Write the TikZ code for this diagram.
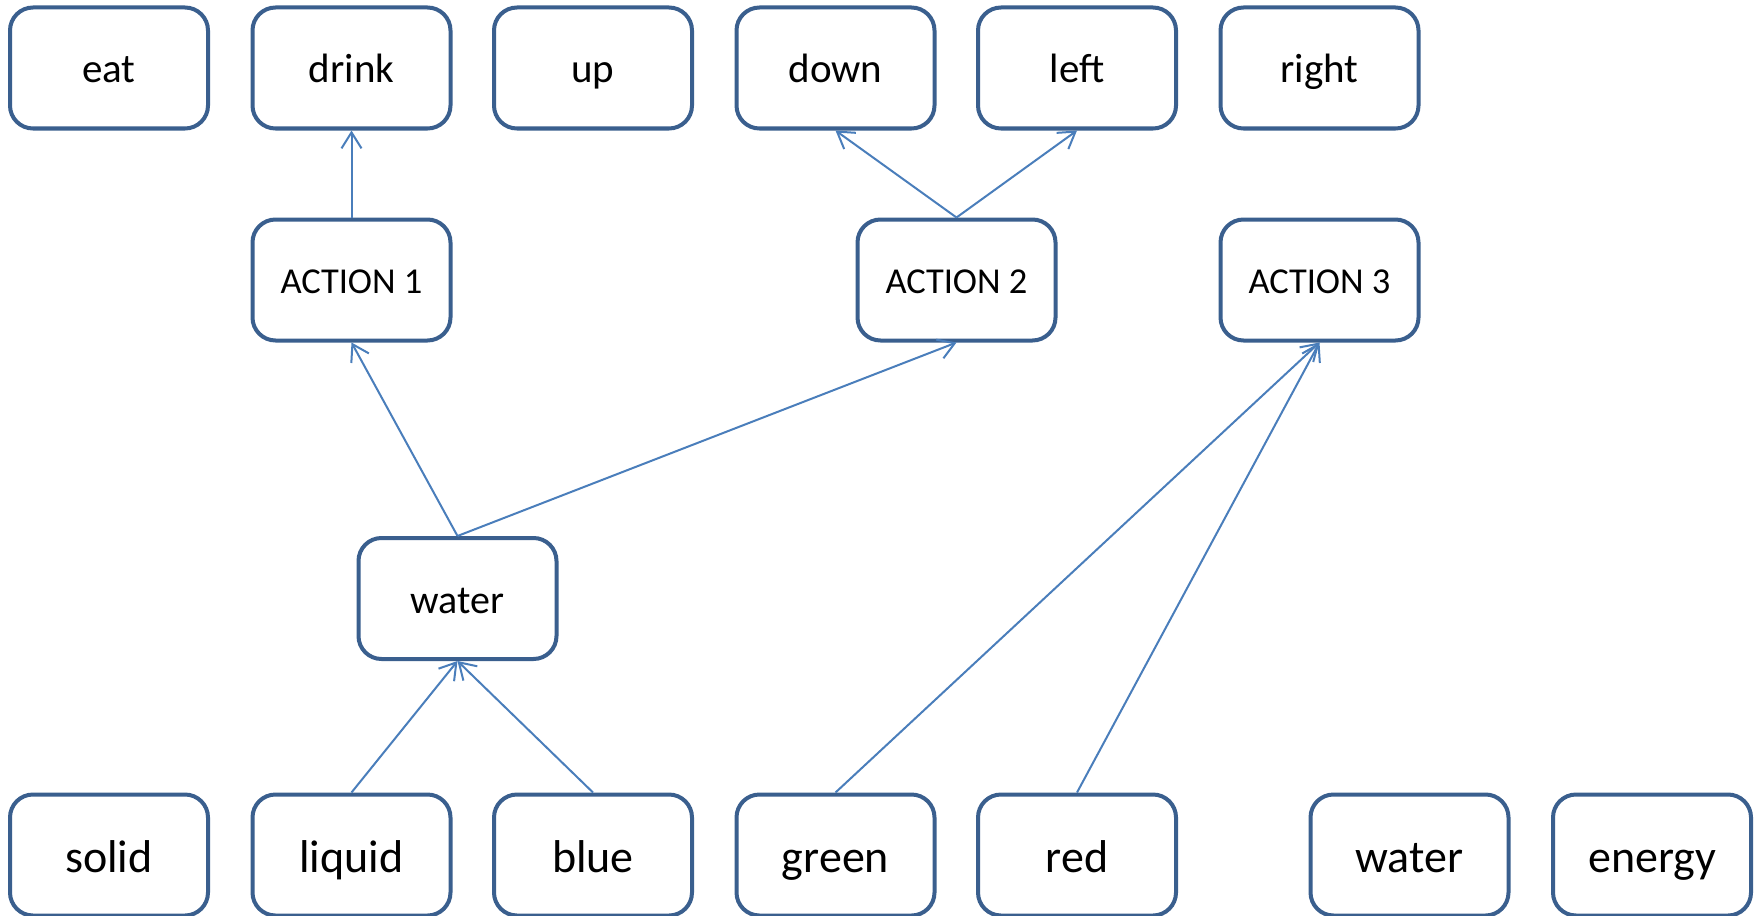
\documentclass[tikz,border=0pt]{standalone}
\usepackage{fontspec}
\setmainfont{Carlito}
\usetikzlibrary{arrows.meta}
\definecolor{boxblue}{HTML}{3A5F8E}
\definecolor{linkblue}{HTML}{4A7EBB}
\tikzset{
  box/.style={draw=boxblue, line width=4pt, rounded corners=23pt, fill=white,
    minimum width=198pt, minimum height=121pt, inner sep=0pt, text=black},
  toprow/.style={box, font=\fontsize{41}{48}\selectfont, text height=30pt, text depth=0pt},
  actbox/.style={box, font=\fontsize{36.5}{44}\selectfont, text height=26pt, text depth=0pt},
  midbox/.style={box, font=\fontsize{40}{48}\selectfont, text height=29pt, text depth=0pt},
  botrow/.style={box, font=\fontsize{46}{54}\selectfont, text height=35pt, text depth=0pt},
  link/.style={draw=linkblue, line width=2pt, -{Straight Barb[length=16pt,width=20pt]}}
}
\begin{document}
\begin{tikzpicture}[x=1pt,y=-1pt]
\useasboundingbox (0,0) rectangle (1760,915);
% top row
\node[toprow] (eat)   at (109,68)    {eat};
\node[toprow] (drink) at (351.5,68)  {drink};
\node[toprow] (up)    at (593,68)    {up};
\node[toprow] (down)  at (835.5,68)  {down};
\node[toprow] (left)  at (1077,68)   {left};
\node[toprow] (right) at (1319.5,68) {right};
% actions
\node[actbox] (a1) at (351.5,280)  {ACTION 1};
\node[actbox] (a2) at (956.5,280)  {ACTION 2};
\node[actbox] (a3) at (1319.5,280) {ACTION 3};
% middle
\node[midbox] (watermid) at (457.5,598.5) {water};
% bottom row
\node[botrow] (solid)  at (109,855)    {solid};
\node[botrow] (liquid) at (351.5,855)  {liquid};
\node[botrow] (blue)   at (593,855)    {blue};
\node[botrow] (green)  at (835.5,855)  {green};
\node[botrow] (red)    at (1077,855)   {red};
\node[botrow] (waterb) at (1409.5,855) {water};
\node[botrow] (energy) at (1652,855)   {energy};
% connectors
\draw[link] (a1.north) -- (drink.south);
\draw[link] (a2.north) -- (down.south);
\draw[link] (a2.north) -- (left.south);
\draw[link] (watermid.north) -- (a1.south);
\draw[link] (watermid.north) -- (a2.south);
\draw[link] (liquid.north) -- (watermid.south);
\draw[link] (blue.north) -- (watermid.south);
\draw[link] (green.north) -- (a3.south);
\draw[link] (red.north) -- (a3.south);
\end{tikzpicture}
\end{document}
